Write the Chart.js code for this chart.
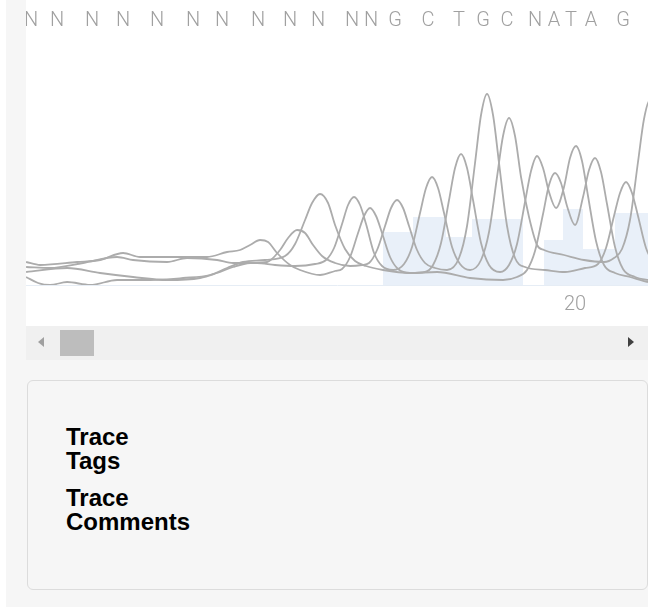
<!DOCTYPE html>
<html><head><meta charset="utf-8">
<script src="https://cdn.jsdelivr.net/npm/chart.js@4.4.0/dist/chart.umd.min.js"></script>
<style>
html,body{margin:0;padding:0;background:#fff;width:648px;height:607px;overflow:hidden;font-family:"Liberation Sans",Arial,sans-serif;}
#panel{position:absolute;left:6px;top:0;width:642px;height:607px;background:#f6f6f6;}
#trace{position:absolute;left:26px;top:0;width:622px;height:326px;background:#fff;}
#scroll{position:absolute;left:26px;top:326px;width:622px;height:34px;background:#f0f0f0;}
#thumb{position:absolute;left:34px;top:4px;width:34px;height:26px;background:#bdbdbd;}
.al{position:absolute;left:12px;top:11px;width:0;height:0;border-top:5px solid transparent;border-bottom:5px solid transparent;border-right:6px solid #a0a0a0;}
.ar{position:absolute;left:602px;top:11px;width:0;height:0;border-top:5px solid transparent;border-bottom:5px solid transparent;border-left:6px solid #404040;}
#box{position:absolute;left:27px;top:380px;width:619px;height:208px;border:1px solid #dcdcdc;border-radius:6px;background:#f6f6f6;}
.lbl{position:absolute;left:38px;font-weight:bold;font-size:24px;line-height:23.5px;color:#000;}
</style></head>
<body>
<div id="panel"></div>
<div id="trace"><canvas id="c" width="622" height="326"></canvas></div>
<div id="scroll"><div class="al"></div><div id="thumb"></div><div class="ar"></div></div>
<div id="box">
  <div class="lbl" style="top:44px">Trace<br>Tags</div>
  <div class="lbl" style="top:105px">Trace<br>Comments</div>
</div>
<script>
// Base calls, their scan positions, and per-base quality
const bases   = ['N','N','N','N','N','N','N','N','N','N','N','N','G','C','T','G','C','N','A','T','A','G'];
const basePos = [7,33,68,99,133,169,198,234,266,294,328,347,371,404,435,459,483,511,530,547,567,599];
const baseNumberTicks = [20];
const qual     = [0,0,0,0,0,0,0,0,0,0,0,0,53,68,48,66,66,0,45,76,36,72];
const qualEdge = [0,20,50,84,116,151,184,216,250,280,311,338,357,387,420,446,471,497,518,537,557,589];
const qualEnd  = 640;

// Trace channels: [scan, signal]
const traceA = [[0,8],[12,2],[24,0],[41,3],[64,0],[91,5],[124,5],[157,7],[184,10],[201,17],[217,23],[239,25],[259,29],[269,41],[279,65],[286,82],[294,91],[302,82],[309,60],[319,36],[329,24],[340,19],[357,15],[384,12],[411,13],[444,7],[477,5],[491,8],[501,15],[509,34],[517,71],[523,100],[529,112],[535,102],[541,79],[549,60],[557,88],[563,115],[569,127],[575,113],[581,81],[589,38],[597,16],[609,8],[622,5],[634,4]];
const traceC = [[0,18],[24,17],[57,22],[91,28],[107,25],[141,23],[161,27],[191,25],[207,22],[231,22],[249,20],[269,19],[289,21],[300,25],[308,37],[316,61],[322,80],[328,88],[334,80],[340,61],[348,32],[356,19],[367,15],[378,21],[386,38],[394,72],[400,97],[406,108],[412,97],[418,72],[426,38],[434,21],[444,15],[455,25],[463,53],[471,108],[477,149],[483,167],[489,149],[495,108],[503,68],[511,40],[518,35],[538,30],[558,25],[578,23],[588,27],[596,36],[604,65],[612,123],[618,166],[624,185],[630,166],[636,123]];
const traceG = [[0,13],[41,17],[74,12],[107,8],[141,5],[174,7],[191,12],[207,18],[224,22],[241,23],[254,35],[262,47],[271,55],[279,52],[287,40],[296,29],[309,22],[324,19],[336,20],[343,22],[351,35],[359,59],[365,77],[371,85],[377,77],[383,59],[391,35],[399,22],[409,17],[421,15],[433,27],[441,59],[449,122],[455,170],[461,191],[467,170],[473,122],[481,59],[489,27],[499,18],[519,15],[539,13],[559,17],[572,21],[580,37],[588,69],[594,92],[600,103],[606,92],[612,69],[620,37],[628,21]];
const traceT = [[0,23],[14,20],[51,23],[74,25],[97,32],[114,28],[147,28],[181,28],[201,33],[214,35],[224,40],[234,45],[242,43],[251,32],[264,20],[274,15],[294,10],[309,14],[316,16],[324,28],[332,52],[338,69],[344,77],[350,69],[356,52],[364,28],[372,16],[384,12],[399,13],[407,20],[415,42],[423,85],[429,117],[435,131],[441,117],[447,85],[455,42],[463,20],[474,13],[483,20],[491,41],[499,83],[505,114],[511,129],[517,117],[523,93],[530,77],[538,98],[544,127],[550,139],[556,124],[562,89],[570,44],[578,20],[589,12],[604,8],[622,3],[634,2]];

const scanMin = 0, scanMax = 622, signalMax = 252;

const toPts = arr => arr.map(p => ({x: p[0], y: p[1]}));
const qualPts = qualEdge.map((e, i) => ({x: e, y: qual[i]}));
qualPts.push({x: qualEnd, y: qual[qual.length - 1]});

const traceStyle = {borderColor: '#acacac', borderWidth: 1.8, pointRadius: 0, fill: false, cubicInterpolationMode: 'monotone'};
const tickFont = {family: 'Roboto', size: 20, weight: 300};

new Chart(document.getElementById('c'), {
  type: 'line',
  data: {
    datasets: [
      Object.assign({label: 'A', data: toPts(traceA)}, traceStyle),
      Object.assign({label: 'C', data: toPts(traceC)}, traceStyle),
      Object.assign({label: 'G', data: toPts(traceG)}, traceStyle),
      Object.assign({label: 'T', data: toPts(traceT)}, traceStyle),
      {label: 'Quality', data: qualPts, stepped: true, fill: 'origin', backgroundColor: '#e9f0f9', borderWidth: 0, pointRadius: 0}
    ]
  },
  options: {
    responsive: false, animation: false, devicePixelRatio: 1, events: [],
    layout: {padding: 0},
    plugins: {legend: {display: false}, tooltip: {enabled: false}},
    scales: {
      x: {
        type: 'linear', position: 'bottom', min: scanMin, max: scanMax,
        grid: {display: false, drawTicks: false},
        border: {display: true, color: '#e6edf5', width: 1},
        afterBuildTicks: s => { s.ticks = baseNumberTicks.map(n => ({value: basePos[n - 1]})); },
        afterFit: s => { s.height = 41; },
        ticks: {autoSkip: false, maxRotation: 0, minRotation: 0, padding: 8, labelOffset: 2, color: '#a0a0a0', font: tickFont,
                callback: (v, i) => String(baseNumberTicks[i])}
      },
      xb: {
        type: 'linear', position: 'top', min: scanMin, max: scanMax,
        grid: {display: false, drawTicks: false},
        border: {display: false},
        afterBuildTicks: s => { s.ticks = basePos.map(p => ({value: p})); },
        afterFit: s => { s.height = 33; },
        ticks: {autoSkip: false, maxRotation: 0, minRotation: 0, padding: 0, labelOffset: -2, color: '#a0a0a0', font: tickFont,
                callback: (v, i) => bases[i]}
      },
      y: {display: false, min: 0, max: signalMax}
    }
  }
});
</script>
</body></html>
